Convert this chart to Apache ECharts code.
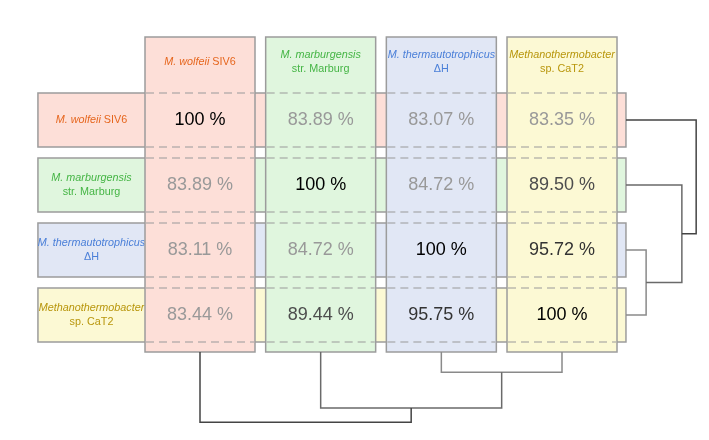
<!DOCTYPE html>
<html><head><meta charset="utf-8">
<script src="https://cdn.jsdelivr.net/npm/echarts@6/dist/echarts.min.js"></script>
<style>html,body{margin:0;padding:0;background:#fff}#c{width:709px;height:440px}</style>
</head><body><div id="c"></div>
<script>
// ---- data ----
const italicNames = ['M. wolfeii', 'M. marburgensis', 'M. thermautotrophicus', 'Methanothermobacter'];
const strainNames = ['SIV6', 'str. Marburg', 'ΔH', 'sp. CaT2'];
const identityRows = [
  [100, 83.89, 83.07, 83.35],
  [83.89, 100, 84.72, 89.50],
  [83.11, 84.72, 100, 95.72],
  [83.44, 89.44, 95.75, 100]
];
// hierarchical clustering: [childA, childB, height]; nodes 0-3 leaves, 4.. merges
const linkage = [[2, 3, 0.31], [1, 4, 0.86], [0, 5, 1.08]];

// ---- style / layout ----
const W = 709, H = 440;
const X0 = 200, DX = 120.67, Y0 = 120, DY = 65;
const fills = ['#fddfd8', '#e0f6de', '#e1e7f5', '#fcf9d4'];
const textColors = ['#e6661e', '#45b545', '#4a7fd8', '#b8960c'];
const oneLine = [true, false, false, false];
const linkColors = ['#8a8a8a', '#6a6a6a', '#444'];
const borderColor = '#9c9c9c';
const FONT = '"Liberation Sans", Arial, sans-serif';
const LABEL_SIZE = 10.8;

function labelText(i) {
  return '{i|' + italicNames[i] + '}' + (oneLine[i] ? ' ' : '\n') + strainNames[i];
}
function labelStyle(i, x, y) {
  return {
    text: labelText(i), x: x, y: y, align: 'center', verticalAlign: 'middle',
    fill: textColors[i], font: LABEL_SIZE + 'px ' + FONT, lineHeight: 14,
    rich: { i: { fontStyle: 'italic', fill: textColors[i], fontSize: LABEL_SIZE, fontFamily: FONT, lineHeight: 14 } }
  };
}
function valueColor(v) {
  if (v >= 99.9) return '#000';
  if (v >= 95) return '#333';
  if (v >= 89) return '#4d4d4d';
  return '#999';
}
function fmt(v) { return v === 100 ? '100 %' : v.toFixed(2) + ' %'; }

const cellW = 110 / DX, cellH = 54 / DY;
const rowLeft = -1.343, rowRight = 3.53, labelX = -0.899;
const colTop = -1.277, colBottom = 3.57, headerY = -0.89;

const cells = [];
identityRows.forEach((r, j) => r.forEach((v, i) => cells.push([i, j, v])));

const chart = echarts.init(document.getElementById('c'), null, { renderer: 'canvas' });
chart.setOption({
  animation: false,
  grid: { left: 0, right: 0, top: 0, bottom: 0 },
  xAxis: { type: 'value', min: -X0 / DX, max: (W - X0) / DX, show: false },
  yAxis: { type: 'value', inverse: true, min: -Y0 / DY, max: (H - Y0) / DY, show: false },
  series: [
    { // row bands
      type: 'custom', z: 1, data: italicNames.map((_, j) => [0, j]),
      renderItem: function (params, api) {
        const j = api.value(1);
        const uy = api.size([0, 1])[1];
        const l = api.coord([rowLeft, j]), r = api.coord([rowRight, j]), lab = api.coord([labelX, j]);
        const h = cellH * uy;
        return { type: 'group', children: [
          { type: 'rect', shape: { x: l[0], y: l[1] - h / 2, width: r[0] - l[0], height: h },
            style: { fill: fills[j], stroke: borderColor, lineWidth: 1.5 } },
          { type: 'text', style: labelStyle(j, lab[0], lab[1]) }
        ]};
      }
    },
    { // columns
      type: 'custom', z: 2, data: italicNames.map((_, i) => [i, 0]),
      renderItem: function (params, api) {
        const i = api.value(0);
        const ux = api.size([1, 0])[0], uy = api.size([0, 1])[1];
        const t = api.coord([i, colTop]), b = api.coord([i, colBottom]), hd = api.coord([i, headerY]);
        const w = cellW * ux;
        const children = [
          { type: 'rect', shape: { x: t[0] - w / 2, y: t[1], width: w, height: b[1] - t[1] },
            style: { fill: fills[i], stroke: borderColor, lineWidth: 1.5 } },
          { type: 'text', style: labelStyle(i, hd[0], hd[1]) }
        ];
        for (let j = 0; j < identityRows.length; j++) {
          [-cellH / 2, cellH / 2].forEach(function (d) {
            const p = api.coord([i, j + d]);
            children.push({ type: 'line', shape: { x1: p[0] - w / 2 + 1, y1: p[1], x2: p[0] + w / 2 - 1, y2: p[1] },
              style: { stroke: '#9a9a9a', lineWidth: 1.2, lineDash: [8, 5] } });
          });
        }
        return { type: 'group', children: children };
      }
    },
    { // cell values
      type: 'custom', z: 3, data: cells,
      renderItem: function (params, api) {
        const v = api.value(2);
        const p = api.coord([api.value(0), api.value(1)]);
        return { type: 'text', style: { text: fmt(v), x: p[0], y: p[1], align: 'center', verticalAlign: 'middle',
          fill: valueColor(v), font: '18px ' + FONT } };
      }
    },
    { // dendrograms
      type: 'custom', z: 3, data: [[0, 0]],
      renderItem: function (params, api) {
        const uy = api.size([0, 1])[1];
        const n = italicNames.length;
        const pos = [], hgt = [];
        for (let k = 0; k < n; k++) { pos[k] = k; hgt[k] = 0; }
        linkage.forEach(function (L, k) { pos[n + k] = (pos[L[0]] + pos[L[1]]) / 2; hgt[n + k] = L[2]; });
        const baseX = api.coord([rowRight, 0])[0];
        const baseY = api.coord([0, colBottom])[1];
        const children = [];
        linkage.forEach(function (L, k) {
          const a = L[0], b = L[1], h = L[2];
          const ya = api.coord([0, pos[a]])[1], yb = api.coord([0, pos[b]])[1];
          children.push({ type: 'polyline', shape: { points: [
            [baseX + hgt[a] * uy, ya], [baseX + h * uy, ya], [baseX + h * uy, yb], [baseX + hgt[b] * uy, yb]] },
            style: { stroke: linkColors[k], lineWidth: 1.5, fill: null } });
          const xa = api.coord([pos[a], 0])[0], xb = api.coord([pos[b], 0])[0];
          children.push({ type: 'polyline', shape: { points: [
            [xa, baseY + hgt[a] * uy], [xa, baseY + h * uy], [xb, baseY + h * uy], [xb, baseY + hgt[b] * uy]] },
            style: { stroke: linkColors[k], lineWidth: 1.5, fill: null } });
        });
        return { type: 'group', children: children };
      }
    }
  ]
});
</script></body></html>
